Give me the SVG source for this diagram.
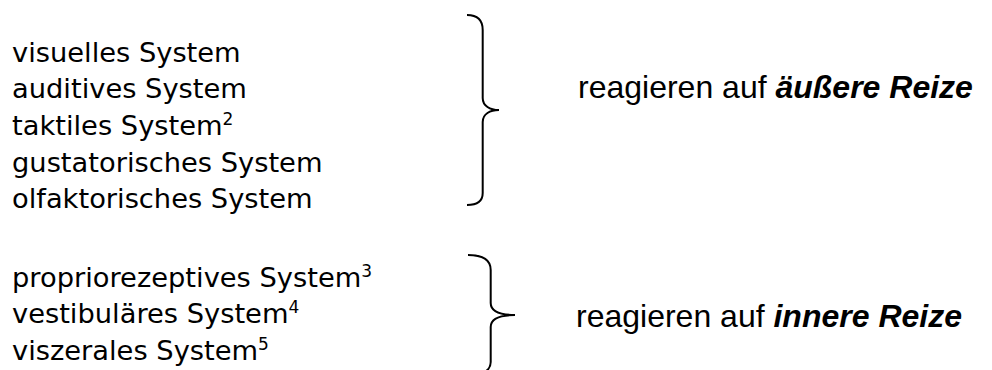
<svg xmlns="http://www.w3.org/2000/svg" width="992" height="370" viewBox="0 0 992 370">
  <style>
    .sys { font-family: "DejaVu Sans", Verdana, sans-serif; font-size: 27.3px; fill: #000; }
    .sup { font-size: 17px; }
    .lbl { font-family: "Liberation Sans", Arial, sans-serif; font-size: 32px; fill: #000; }
    .em { font-weight: bold; font-style: italic; }
    .brace { fill: none; stroke: #000; stroke-width: 2; }
  </style>
  <rect width="992" height="370" fill="#fff"/>

  <!-- external senses -->
  <g id="external-systems">
    <text class="sys" x="12" y="61.6">visuelles System</text>
    <text class="sys" x="12" y="98.3">auditives System</text>
    <text class="sys" x="12" y="135">taktiles System<tspan class="sup" dy="-10">2</tspan></text>
    <text class="sys" x="12" y="171.7">gustatorisches System</text>
    <text class="sys" x="12" y="208.3">olfaktorisches System</text>
  </g>

  <!-- internal senses -->
  <g id="internal-systems">
    <text class="sys" x="12" y="286.7">propriorezeptives System<tspan class="sup" dy="-10">3</tspan></text>
    <text class="sys" x="12" y="323.3">vestibuläres System<tspan class="sup" dy="-10">4</tspan></text>
    <text class="sys" x="12" y="360">viszerales System<tspan class="sup" dy="-10">5</tspan></text>
  </g>

  <!-- braces -->
  <g id="connectors">
    <path class="brace" d="M467,15 C478,15 482.7,20 482.7,30 L482.7,98 C482.7,106 490,110 499,110 C490,110 482.7,114 482.7,122 L482.7,193 C482.7,201 478,205 467,205"/>
    <path class="brace" d="M468,255 C484,255 490.7,260 490.7,270 L490.7,303 C490.7,311 500,315 515,315 C500,315 490.7,319 490.7,327 L490.7,362 C490.7,370 484,375 468,375"/>
  </g>

  <g id="label-external">
    <text class="lbl" x="578" y="98">reagieren auf <tspan class="em">äußere Reize</tspan></text>
  </g>
  <g id="label-internal">
    <text class="lbl" x="576" y="327">reagieren auf <tspan class="em">innere Reize</tspan></text>
  </g>
</svg>
